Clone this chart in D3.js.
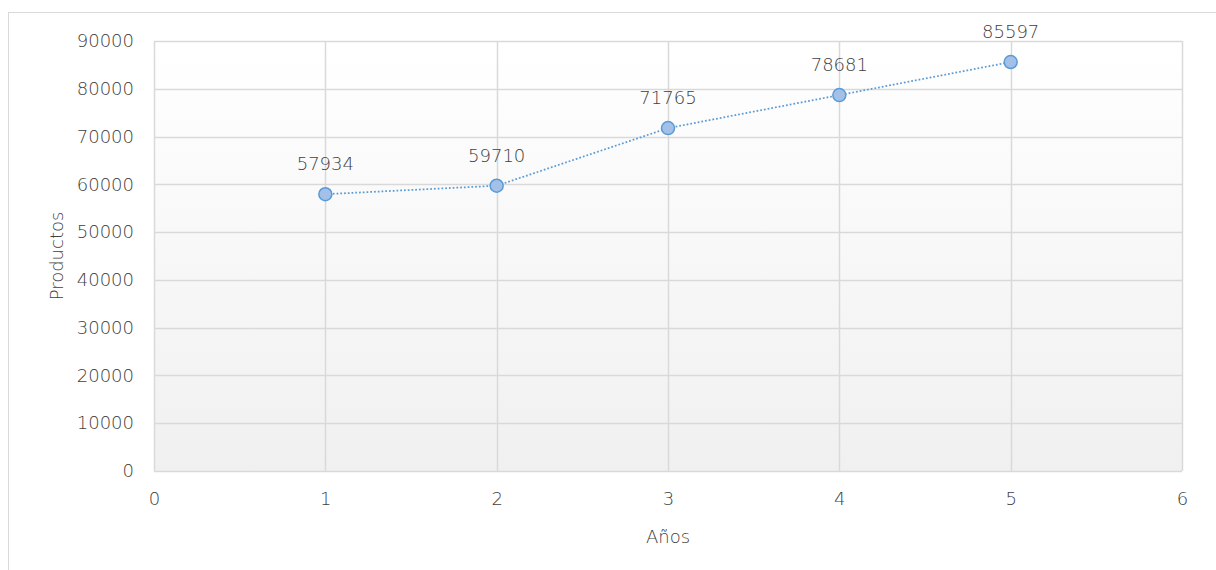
<!DOCTYPE html>
<html>
<head>
<meta charset="utf-8">
<script src="https://cdn.jsdelivr.net/npm/d3@7"></script>
<style>
  html, body { margin: 0; padding: 0; background: #fff; }
  svg { display: block; }
  text { font-family: "DejaVu Sans", sans-serif; font-weight: 200; fill: #404040; }
</style>
</head>
<body>
<svg id="chart" width="1216" height="570"></svg>
<script>
const years = [1, 2, 3, 4, 5];
const products = [57934, 59710, 71765, 78681, 85597];
const xTicks = [0, 1, 2, 3, 4, 5, 6];
const yTicks = [0, 10000, 20000, 30000, 40000, 50000, 60000, 70000, 80000, 90000];
const xTitle = "Años";
const yTitle = "Productos";

const svg = d3.select("#chart");
const W = 1216, H = 570;
const m = { left: 154, right: 1182, top: 41, bottom: 471 };
const FS = 18;
const TXT = "#404040";

// outer chart border
svg.append("rect").attr("x", 8.5).attr("y", 12.5).attr("width", W).attr("height", H)
  .attr("fill", "#fff").attr("stroke", "#d9d9d9").attr("stroke-width", 1);

const x = d3.scaleLinear().domain([0, 6]).range([m.left, m.right]);
const y = d3.scaleLinear().domain([0, 90000]).range([m.bottom, m.top]);

const defs = svg.append("defs");
const grad = defs.append("linearGradient").attr("id", "bg").attr("x1", 0).attr("y1", 0).attr("x2", 0).attr("y2", 1);
grad.append("stop").attr("offset", "0%").attr("stop-color", "#ffffff");
grad.append("stop").attr("offset", "100%").attr("stop-color", "#f0f0f0");

svg.append("rect").attr("x", m.left).attr("y", m.top)
  .attr("width", m.right - m.left).attr("height", m.bottom - m.top)
  .attr("fill", "url(#bg)");

// gridlines
svg.append("g").selectAll("line.h").data(yTicks).join("line")
  .attr("x1", m.left).attr("x2", m.right)
  .attr("y1", d => Math.round(y(d)) + 0.5).attr("y2", d => Math.round(y(d)) + 0.5)
  .attr("stroke", "#d9d9d9").attr("stroke-width", 1.5);
svg.append("g").selectAll("line.v").data(xTicks).join("line")
  .attr("y1", m.top).attr("y2", m.bottom)
  .attr("x1", d => Math.round(x(d)) + 0.5).attr("x2", d => Math.round(x(d)) + 0.5)
  .attr("stroke", "#d9d9d9").attr("stroke-width", 1.5);

// axes via d3 axis
const yAxis = svg.append("g").attr("transform", `translate(${m.left},0)`)
  .call(d3.axisLeft(y).tickValues(yTicks).tickSize(0).tickPadding(20).tickFormat(d3.format("d")));
const xAxis = svg.append("g").attr("transform", `translate(0,${m.bottom})`)
  .call(d3.axisBottom(x).tickValues(xTicks).tickSize(0).tickPadding(21).tickFormat(d3.format("d")));
[yAxis, xAxis].forEach(g => {
  g.select(".domain").remove();
  g.selectAll("text").attr("font-size", FS).attr("font-family", null).attr("fill", TXT);
});

// axis titles
svg.append("text").attr("x", (m.left + m.right) / 2).attr("y", 543)
  .attr("text-anchor", "middle").attr("font-size", FS).text(xTitle);
svg.append("text").attr("transform", `translate(63,${(m.top + m.bottom) / 2}) rotate(-90)`)
  .attr("text-anchor", "middle").attr("font-size", FS).text(yTitle);

// line
const pts = years.map((d, i) => ({ x: d, y: products[i] }));
svg.append("path").datum(pts)
  .attr("d", d3.line().x(d => x(d.x)).y(d => y(d.y)))
  .attr("fill", "none").attr("stroke", "#5b9bd5").attr("stroke-width", 1.75)
  .attr("stroke-dasharray", "1.75,2");

svg.append("g").selectAll("circle").data(pts).join("circle")
  .attr("cx", d => x(d.x)).attr("cy", d => y(d.y)).attr("r", 6.5)
  .attr("fill", "#a3c1e8").attr("stroke", "#5b9bd5").attr("stroke-width", 1.5);

svg.append("g").selectAll("text").data(pts).join("text")
  .attr("x", d => x(d.x)).attr("y", d => y(d.y) - 24)
  .attr("text-anchor", "middle").attr("font-size", FS)
  .text(d => d.y);
</script>
</body>
</html>
